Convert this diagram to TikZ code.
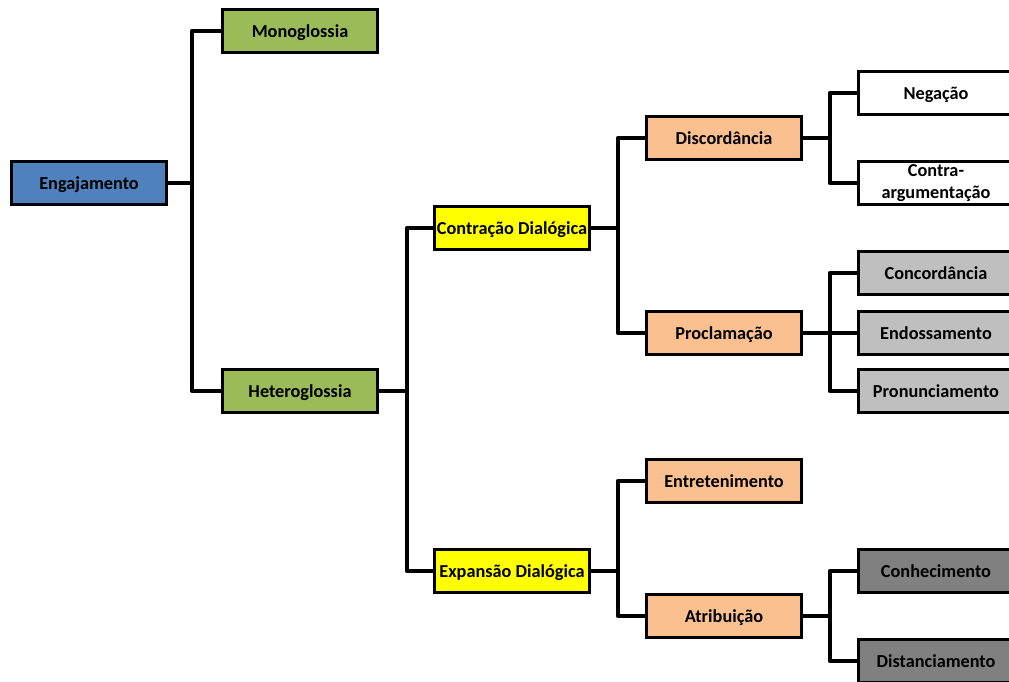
\documentclass[tikz,border=0pt]{standalone}
\usepackage{fontspec}
\setmainfont{Carlito}
\usepackage{tikz}
\definecolor{engblue}{HTML}{4F81BD}
\definecolor{glossgreen}{HTML}{9BBB59}
\definecolor{dialyellow}{HTML}{FFFF00}
\definecolor{peach}{HTML}{FAC090}
\definecolor{gray75}{gray}{0.75}
\definecolor{gray50}{gray}{0.5}

\begin{document}
\begin{tikzpicture}[x=0.75pt, y=-0.75pt,
    box/.style={draw=black, line width=2.2pt, minimum width=116pt, minimum height=32pt,
      inner sep=1pt, align=center, font=\fontsize{13.7}{17}\selectfont\bfseries},
    onebox/.style={box, text height=10.5pt, text depth=1pt},
    conn/.style={black, line width=3pt, line join=round}]

  \useasboundingbox (0, 0) rectangle (1009, 681);
  \clip (0, 0) rectangle (1009, 681);

  % level 0 and 1
  \node[onebox, fill=engblue] (eng) at (89, 183) {Engajamento};
  \node[onebox, fill=glossgreen] (mono) at (300, 31) {Monoglossia};
  \node[onebox, fill=glossgreen] (hetero) at (300, 391) {Heteroglossia};

  % level 2
  \node[onebox, fill=dialyellow] (contr) at (512, 228) {Contração Dialógica};
  \node[onebox, fill=dialyellow] (expan) at (512, 571) {Expansão Dialógica};

  % level 3
  \node[onebox, fill=peach] (disc) at (724, 138) {Discordância};
  \node[onebox, fill=peach] (procl) at (724, 333) {Proclamação};
  \node[onebox, fill=peach] (entre) at (724, 481) {Entretenimento};
  \node[onebox, fill=peach] (atrib) at (724, 616) {Atribuição};

  % level 4
  \node[onebox, fill=white] (neg) at (936, 93) {Negação};
  \node[box, fill=white] (contra) at (936, 183) {Contra-\\argumentação};
  \node[onebox, fill=gray75] (conc) at (936, 273) {Concordância};
  \node[onebox, fill=gray75] (endo) at (936, 333) {Endossamento};
  \node[onebox, fill=gray75] (pron) at (936, 391) {Pronunciamento};
  \node[onebox, fill=gray50] (conh) at (936, 571) {Conhecimento};
  \node[onebox, fill=gray50] (dist) at (936, 661) {Distanciamento};

  % connectors
  \foreach \to in {mono, hetero}
    \draw[conn] (eng.east) -- +(24, 0) |- (\to.west);
  \foreach \to in {contr, expan}
    \draw[conn] (hetero.east) -- +(28, 0) |- (\to.west);
  \foreach \to in {disc, procl}
    \draw[conn] (contr.east) -- +(27, 0) |- (\to.west);
  \foreach \to in {entre, atrib}
    \draw[conn] (expan.east) -- +(27, 0) |- (\to.west);
  \foreach \to in {neg, contra}
    \draw[conn] (disc.east) -- +(27, 0) |- (\to.west);
  \foreach \to in {conc, endo, pron}
    \draw[conn] (procl.east) -- +(27, 0) |- (\to.west);
  \foreach \to in {conh, dist}
    \draw[conn] (atrib.east) -- +(27, 0) |- (\to.west);

\end{tikzpicture}
\end{document}
